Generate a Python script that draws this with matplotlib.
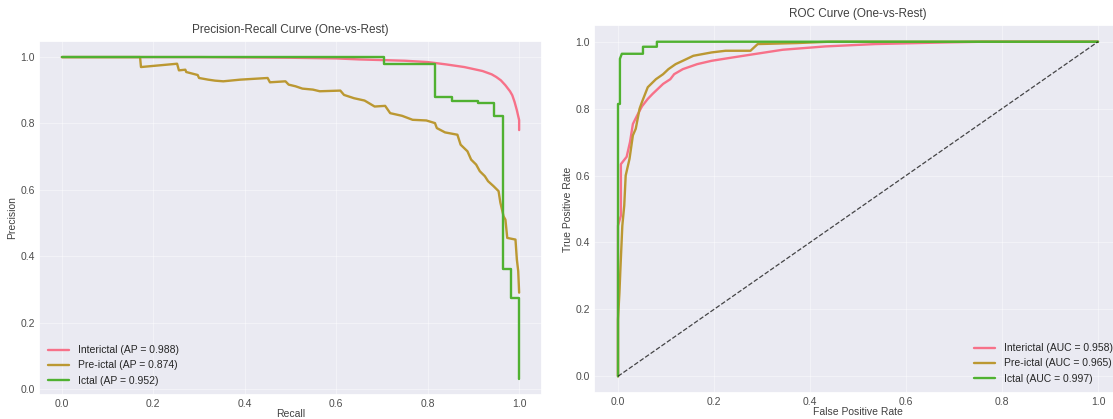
import matplotlib
matplotlib.use("Agg")
import matplotlib.pyplot as plt
import seaborn as sns

sns.set_theme(style="darkgrid")
sns.set_palette("husl")
plt.rcParams["font.family"] = ["Liberation Sans", "DejaVu Sans"]

CLASSES = ["Interictal", "Pre-ictal", "Ictal"]
AP = [0.988, 0.874, 0.952]
AUC = [0.958, 0.965, 0.997]

# precision-recall points
pr_inter_recall = [0.0, 0.3, 0.5, 0.6, 0.65, 0.7, 0.75, 0.8, 0.84, 0.88, 0.9, 0.92,
                   0.94, 0.95, 0.96, 0.97, 0.98, 0.985, 0.99, 0.995, 1.0, 1.0]
pr_inter_prec = [1.0, 1.0, 0.998, 0.996, 0.993, 0.991, 0.989, 0.985, 0.978, 0.97, 0.964, 0.958,
                 0.948, 0.94, 0.93, 0.915, 0.897, 0.885, 0.865, 0.84, 0.81, 0.78]

pr_pre_recall = [0.0, 0.171, 0.173, 0.252, 0.256, 0.27, 0.272, 0.297, 0.3, 0.32, 0.335, 0.353,
                 0.39, 0.45, 0.455, 0.489, 0.496, 0.511, 0.526, 0.549, 0.564, 0.609, 0.617,
                 0.639, 0.662, 0.684, 0.707, 0.718, 0.744, 0.767, 0.797, 0.816, 0.82, 0.838,
                 0.865, 0.872, 0.887, 0.895, 0.906, 0.914, 0.925, 0.932, 0.944, 0.955, 0.959,
                 0.966, 0.97, 0.974, 0.992, 0.995, 0.998, 1.0]
pr_pre_prec = [1.0, 1.0, 0.97, 0.98, 0.96, 0.962, 0.955, 0.946, 0.937, 0.932, 0.929, 0.927,
               0.932, 0.937, 0.924, 0.927, 0.917, 0.912, 0.905, 0.902, 0.897, 0.899, 0.886,
               0.876, 0.869, 0.851, 0.853, 0.831, 0.823, 0.811, 0.809, 0.801, 0.786, 0.773,
               0.766, 0.736, 0.716, 0.691, 0.676, 0.656, 0.641, 0.626, 0.611, 0.596, 0.561,
               0.52, 0.51, 0.455, 0.45, 0.39, 0.355, 0.29]

pr_ict_recall = [0.0, 0.705, 0.705, 0.816, 0.816, 0.853, 0.853, 0.91, 0.91, 0.945, 0.945,
                 0.965, 0.965, 0.983, 0.983, 1.0, 1.0]
pr_ict_prec = [1.0, 1.0, 0.979, 0.979, 0.880, 0.880, 0.868, 0.868, 0.861, 0.861, 0.822,
               0.822, 0.361, 0.361, 0.274, 0.274, 0.03]

# ROC points
roc_inter_fpr = [0.0, 0.0, 0.006, 0.006, 0.018, 0.025, 0.031, 0.04, 0.05, 0.062, 0.072, 0.083,
                 0.094, 0.109, 0.117, 0.135, 0.165, 0.195, 0.239, 0.284, 0.343, 0.432, 0.536,
                 0.684, 0.76, 1.0]
roc_inter_tpr = [0.0, 0.45, 0.48, 0.634, 0.656, 0.70, 0.754, 0.78, 0.807, 0.829, 0.844, 0.859,
                 0.874, 0.888, 0.903, 0.918, 0.933, 0.943, 0.953, 0.963, 0.976, 0.986, 0.993,
                 0.998, 1.0, 1.0]

roc_pre_fpr = [0.0, 0.0, 0.003, 0.005, 0.009, 0.013, 0.016, 0.024, 0.031, 0.037, 0.045, 0.05,
               0.062, 0.079, 0.094, 0.105, 0.12, 0.135, 0.157, 0.195, 0.224, 0.276, 0.291,
               0.373, 0.44, 1.0]
roc_pre_tpr = [0.0, 0.17, 0.25, 0.32, 0.45, 0.51, 0.60, 0.65, 0.72, 0.74, 0.80, 0.82,
               0.864, 0.888, 0.903, 0.918, 0.933, 0.943, 0.958, 0.968, 0.973, 0.973, 0.993,
               0.996, 1.0, 1.0]

roc_ict_fpr = [0.0, 0.0, 0.004, 0.004, 0.008, 0.052, 0.052, 0.081, 0.081, 1.0]
roc_ict_tpr = [0.0, 0.814, 0.814, 0.949, 0.964, 0.964, 0.985, 0.985, 1.0, 1.0]

pr_curves = [(pr_inter_recall, pr_inter_prec), (pr_pre_recall, pr_pre_prec),
             (pr_ict_recall, pr_ict_prec)]
roc_curves = [(roc_inter_fpr, roc_inter_tpr), (roc_pre_fpr, roc_pre_tpr),
              (roc_ict_fpr, roc_ict_tpr)]

W, H = 1113, 419
fig = plt.figure(figsize=(W / 100, H / 100), dpi=100)
ax1 = fig.add_axes([39 / W, (H - 395) / H, 503 / W, 354 / H])
ax2 = fig.add_axes([594 / W, (H - 393) / H, 528 / W, 368 / H])

for name, ap, (r, p) in zip(CLASSES, AP, pr_curves):
    ax1.plot(r, p, lw=1.7, label=f"{name} (AP = {ap:.3f})")
ax1.set_title("Precision-Recall Curve (One-vs-Rest)", fontsize=8.5, color="0.25")
ax1.set_xlabel("Recall", fontsize=7.5, labelpad=0, color="0.25")
ax1.set_ylabel("Precision", fontsize=7.5, labelpad=2, color="0.25")
ax1.legend(loc="lower left", fontsize=7.5, frameon=False)

for name, auc, (f, t) in zip(CLASSES, AUC, roc_curves):
    ax2.plot(f, t, lw=1.7, label=f"{name} (AUC = {auc:.3f})")
ax2.plot([0, 1], [0, 1], "k--", lw=0.9, alpha=0.8)
ax2.set_title("ROC Curve (One-vs-Rest)", fontsize=8.5, color="0.25")
ax2.set_xlabel("False Positive Rate", fontsize=7.5, labelpad=0, color="0.25")
ax2.set_ylabel("True Positive Rate", fontsize=7.5, labelpad=2, color="0.25")
ax2.legend(loc="lower right", fontsize=7.5, frameon=False)

for ax in (ax1, ax2):
    ax.tick_params(labelsize=7.5, length=0, pad=3, labelcolor="0.3")
    ax.grid(color="white", lw=0.8, alpha=0.4)

fig.savefig("out.png", dpi=100)
